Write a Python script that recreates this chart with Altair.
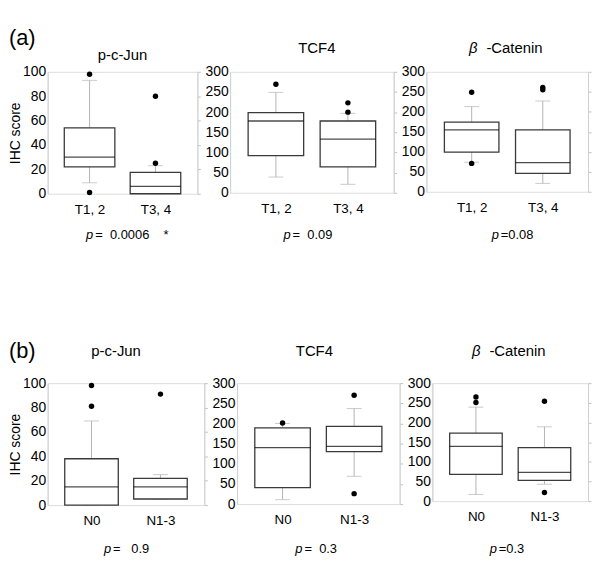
import altair as alt
import pandas as pd

FONT = "Liberation Sans"
NBSP = "\u00a0"

# ---------------- data ----------------
markers = ["p-c-Jun", "TCF4", "β -Catenin"]
groups_a = ["T1, 2", "T3, 4"]
groups_b = ["N0", "N1-3"]

# five-number summaries per group: [lower whisker, Q1, median, Q3, upper whisker]
a_pcjun = [[9, 22, 30, 54, 93], [0, 0, 6, 17.5, 23]]
a_tcf4 = [[39, 92, 178, 199, 249], [21, 64, 133, 178, 197]]
a_bcat = [[74, 99, 155, 174, 213], [21, 46, 73, 155, 227]]
b_pcjun = [[0, 0, 15, 38, 69], [5, 5, 15, 22, 25]]
b_tcf4 = [[11, 41, 140, 189, 200], [69, 130, 143, 193, 237]]
b_bcat = [[17, 68, 139, 173, 239], [43, 53, 73, 136, 189]]

# outliers per group
a_pcjun_out = [[98, 1], [80, 25]]
a_tcf4_out = [[269], [223, 200]]
a_bcat_out = [[249, 71], [261, 255]]
b_pcjun_out = [[98, 81], [91]]
b_tcf4_out = [[201], [270, 26]]
b_bcat_out = [[265, 251], [254, 22]]

# p values text (the italic "p" is drawn separately)
p_a = ["=  0.0006    *", "=  0.09", "=0.08"]
p_b = ["=   0.9", "=  0.3", "=0.3"]
panel_labels = ["(a)", "(b)"]

y_max = [100, 300, 300]
y_step = [20, 50, 50]


def txt(s, x, y, size, align="left", style="normal"):
    return alt.Chart(pd.DataFrame({"t": [s.replace(" ", NBSP)]})).mark_text(
        font=FONT, fontSize=size, fontStyle=style, align=align,
        baseline="alphabetic", color="black").encode(
        text="t:N", x=alt.value(x), y=alt.value(y))


def panel(groups, box, outs, title, ymax, ystep, width, height, ytitle,
          p_end, p_rest, p_y, title_y, title_dx=0, label=None, label_y=0):
    df = pd.DataFrame({
        "g": groups,
        "lo": [b[0] for b in box],
        "q1": [b[1] for b in box],
        "med": [b[2] for b in box],
        "q3": [b[3] for b in box],
        "hi": [b[4] for b in box],
    })
    odf = pd.DataFrame({
        "g": [g for g, o in zip(groups, outs) for _ in o],
        "v": [v for o in outs for v in o],
    })
    ticks = list(range(0, ymax + 1, ystep))
    ysc = alt.Scale(domain=[0, ymax], nice=False, zero=True)
    xsc = alt.Scale(type="point", padding=0.636)
    xax = alt.X("g:N", sort=groups, scale=xsc,
                axis=alt.Axis(title=None, labelAngle=0, ticks=False, domain=False,
                              labelFontSize=13.5, labelPadding=9, labelColor="black",
                              labelFont=FONT))
    bw = round(0.34 * width)
    base = alt.Chart(df)

    left_axis = alt.Axis(values=ticks, labelFontSize=14, labelColor="black",
                         labelFont=FONT, labelPadding=2, ticks=False,
                         domainColor="#d0d0d0",
                         grid=False, title=ytitle, titleFontSize=14,
                         titleFontWeight="normal", titleFont=FONT,
                         titleColor="black", titlePadding=0)
    right_axis = alt.Axis(orient="right", values=ticks, labels=False, ticks=True,
                          tickSize=3, tickColor="#c0c0c0", domainColor="#d0d0d0",
                          grid=False, title=None)

    whisk = base.mark_rule(color="#b4b4b4", strokeWidth=1).encode(
        x=xax, y=alt.Y("lo:Q", scale=ysc, axis=left_axis), y2="hi:Q")
    right = base.mark_rule(opacity=0).encode(
        x=xax, y=alt.Y("lo:Q", scale=ysc, axis=right_axis))
    cap_lo = base.mark_tick(size=15, thickness=1, color="#b4b4b4").encode(
        x=xax, y=alt.Y("lo:Q", scale=ysc, axis=None))
    cap_hi = base.mark_tick(size=15, thickness=1, color="#b4b4b4").encode(
        x=xax, y=alt.Y("hi:Q", scale=ysc, axis=None))
    boxes = base.mark_bar(size=bw, fill="white", stroke="#3a3a3a",
                          strokeWidth=1.3).encode(
        x=xax, y=alt.Y("q1:Q", scale=ysc, axis=None), y2="q3:Q")
    med = base.mark_tick(size=bw, thickness=1.3, color="black").encode(
        x=xax, y=alt.Y("med:Q", scale=ysc, axis=None))
    pts = alt.Chart(odf).mark_circle(size=30, color="black", opacity=1).encode(
        x=xax, y=alt.Y("v:Q", scale=ysc, axis=None))
    layers = [whisk, right, cap_lo, cap_hi, boxes, med, pts,
              txt("p", p_end, p_y, 13, align="right", style="italic"),
              txt(p_rest, p_end + 2, p_y, 13)]
    if title.startswith("β"):
        head, rest = title.split(" ", 1)
        xs = width / 2 - 30
        layers += [txt(head, xs, title_y, 15, align="right", style="italic"),
                   txt(rest, xs + 9, title_y, 15)]
    else:
        layers.append(txt(title, width / 2 + title_dx, title_y, 15, align="center"))
    if label is not None:
        layers.append(txt(label, -39, label_y, 22))

    return alt.layer(*layers).resolve_axis(y="independent").properties(
        width=width, height=height)


row_a = alt.hconcat(
    panel(groups_a, a_pcjun, a_pcjun_out, markers[0], y_max[0], y_step[0], 151, 123,
          "IHC score", 46, p_a[0], 169, -12, 0, panel_labels[0], -27),
    panel(groups_a, a_tcf4, a_tcf4_out, markers[1], y_max[1], y_step[1], 165, 122,
          None, 61, p_a[1], 169, -19, 5),
    panel(groups_a, a_bcat, a_bcat_out, markers[2], y_max[2], y_step[2], 163, 121,
          None, 73, p_a[2], 169, -19),
    spacing=3,
)

row_b = alt.hconcat(
    panel(groups_b, b_pcjun, b_pcjun_out, markers[0], y_max[0], y_step[0], 158, 123,
          "IHC score", 64, p_b[0], 171, -27, -10, panel_labels[1], -25),
    panel(groups_b, b_tcf4, b_tcf4_out, markers[1], y_max[1], y_step[1], 164, 122,
          None, 66, p_b[1], 171, -27, -4),
    panel(groups_b, b_bcat, b_bcat_out, markers[2], y_max[2], y_step[2], 157, 119,
          None, 65, p_b[2], 171, -27),
    spacing=3,
)

chart = alt.vconcat(row_a, row_b, spacing=97).properties(
    padding={"left": 0, "top": 16, "right": 0, "bottom": 0}
).configure_view(stroke="#d0d0d0").configure(font=FONT)

chart.save("out.html", embed_options={"renderer": "svg", "actions": False})
